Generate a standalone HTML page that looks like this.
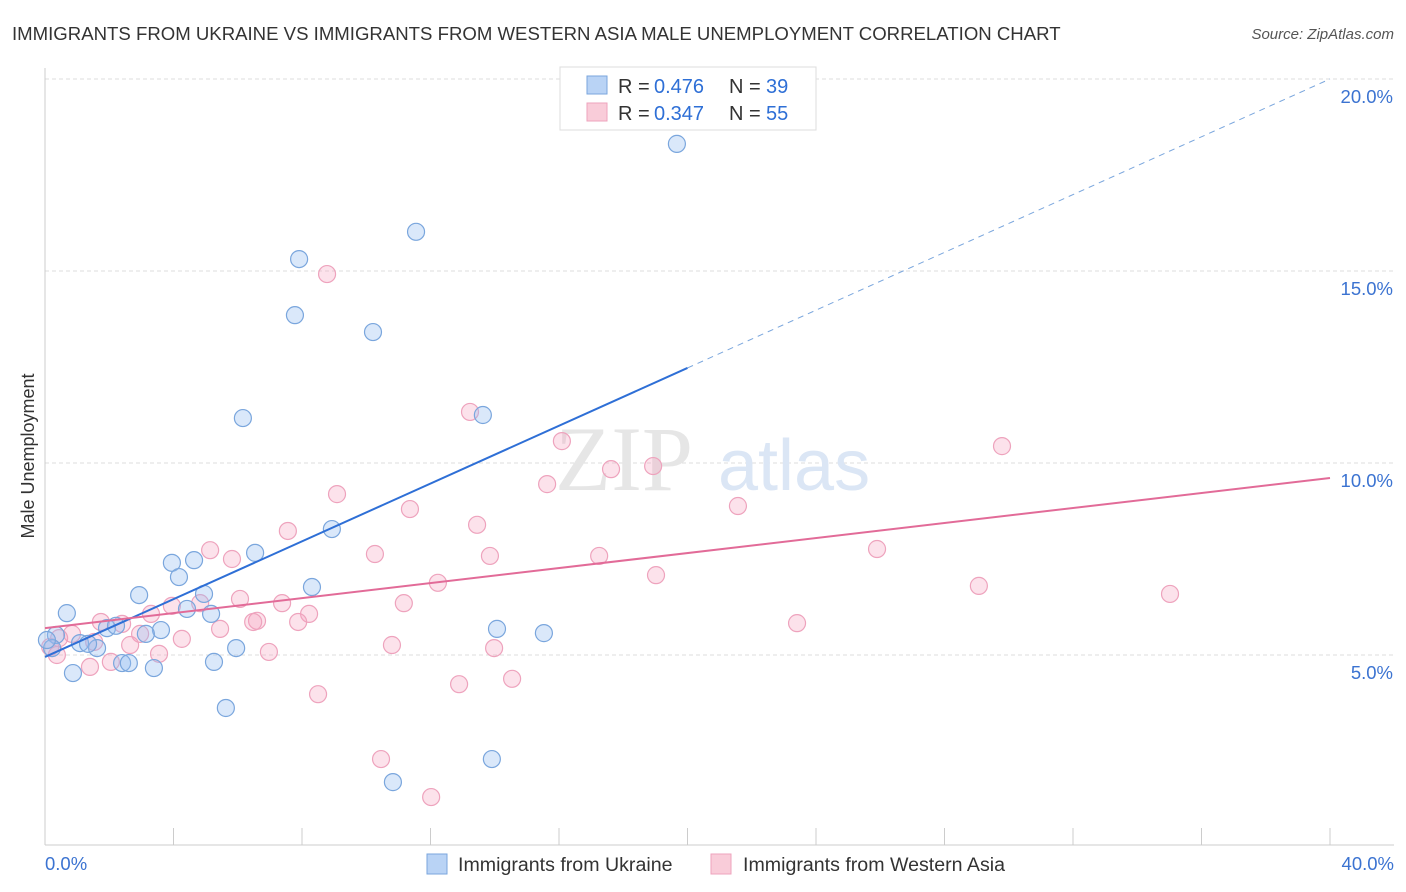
<!DOCTYPE html>
<html><head><meta charset="utf-8"><style>
body{margin:0;background:#fff;font-family:"Liberation Sans",sans-serif;}
#wrap{position:relative;width:1406px;height:892px;overflow:hidden}
</style></head><body>
<div id="wrap">
<svg id="chart" width="1406" height="892"></svg>
</div>
<script>
const blueX=[19.67,11.55,7.91,7.78,10.21,6.16,13.63,8.93,6.54,4.64,3.95,4.17,8.31,2.93,4.95,0.68,4.42,5.17,1.93,2.21,3.61,3.14,0.34,14.07,15.53,1.09,1.62,5.95,0.22,2.40,2.61,3.39,5.26,0.87,5.63,13.91,10.83,1.34,0.06];
const blueY=[18.31,16.02,15.31,13.85,13.41,11.17,11.25,8.28,7.66,7.47,7.40,7.03,6.77,6.56,6.59,6.09,6.20,6.07,5.70,5.76,5.65,5.55,5.52,5.68,5.57,5.31,5.18,5.18,5.18,4.79,4.79,4.66,4.82,4.53,3.62,2.29,1.69,5.29,5.39];
const pinkX=[8.78,13.23,16.09,29.79,18.93,17.62,15.63,9.09,21.57,11.36,13.45,7.56,5.14,25.90,10.27,13.85,17.25,5.82,19.02,12.23,29.07,35.02,6.07,11.17,7.38,4.83,3.95,8.22,3.30,6.60,6.48,7.88,23.41,1.74,2.40,5.45,2.96,4.26,0.84,0.44,1.53,2.65,10.80,13.98,6.97,3.55,0.37,2.05,1.40,8.50,14.54,12.89,10.46,12.02,0.16];
const pinkY=[14.92,11.33,10.57,10.44,9.92,9.84,9.45,9.19,8.88,8.80,8.39,8.23,7.73,7.76,7.63,7.58,7.58,7.50,7.08,6.88,6.80,6.59,6.46,6.35,6.35,6.35,6.28,6.07,6.07,5.89,5.86,5.86,5.83,5.86,5.81,5.68,5.55,5.42,5.55,5.44,5.34,5.26,5.26,5.18,5.08,5.03,5.00,4.82,4.69,3.98,4.38,4.24,2.29,1.30,5.21];
const yTicks=[5,10,15,20];
const yTickLabels=["5.0%","10.0%","15.0%","20.0%"];
const blueFit=[4.95,20.0];
const pinkFit=[5.70,9.61];

const NS="http://www.w3.org/2000/svg";
const svg=document.getElementById('chart');
const X=v=>45+v*32.125, Y=v=>847-v*38.4;
function el(t,a,p){const e=document.createElementNS(NS,t);for(const k in a)e.setAttribute(k,a[k]);(p||svg).appendChild(e);return e;}
function txt(s,a){const e=el('text',a);e.textContent=s;return e;}

const t=txt("IMMIGRANTS FROM UKRAINE VS IMMIGRANTS FROM WESTERN ASIA MALE UNEMPLOYMENT CORRELATION CHART",{x:12,y:40,'font-size':18.6,fill:'#333'});

const src=txt("Source: ZipAtlas.com",{x:1394,y:39,'font-size':15,fill:'#555','text-anchor':'end','font-style':'italic'});


yTicks.forEach((v,i)=>{
 const g=el('line',{x1:45,x2:1394,y1:Y(v),y2:Y(v),stroke:'#ddd','stroke-dasharray':'4,3'});
 
 const l=txt(yTickLabels[i],{x:1393,y:Y(v)+24,'font-size':18.5,fill:'#3b73d1','text-anchor':'end'});
 
});
el('line',{x1:45,x2:1394,y1:845,y2:845,stroke:'#ccc'});
el('line',{x1:45,x2:45,y1:68,y2:845,stroke:'#ccc'});
for(let i=0;i<=10;i++){const tk=el('line',{x1:X(i*4),x2:X(i*4),y1:828,y2:845,stroke:'#ccc'});}
const x0=txt("0.0%",{x:45,y:870,'font-size':18.5,fill:'#3b73d1'});
const x1=txt("40.0%",{x:1394,y:870,'font-size':18.5,fill:'#3b73d1','text-anchor':'end'});
const yt=txt("Male Unemployment",{x:34,y:456,'font-size':18,fill:'#333','text-anchor':'middle',transform:'rotate(-90 34 456)'});


const wm=txt("ZIP",{x:555,y:490,'font-size':92,fill:'#e6e6e6','font-family':'Liberation Serif'});

const wm2=txt("atlas",{x:718,y:490,'font-size':72,fill:'#dbe6f5'});


pinkX.forEach((v,i)=>{const c=el('circle',{cx:X(v),cy:Y(pinkY[i]),r:8.5,fill:'rgba(244,160,190,0.3)',stroke:'#eea3bd','stroke-width':1.2});
 });
blueX.forEach((v,i)=>{const c=el('circle',{cx:X(v),cy:Y(blueY[i]),r:8.5,fill:'rgba(150,190,240,0.35)',stroke:'#7aa6dd','stroke-width':1.2});
 });

const bmid=blueFit[0]+(blueFit[1]-blueFit[0])/2;
const bl=el('line',{x1:X(0),y1:Y(blueFit[0]),x2:X(20),y2:Y(bmid),stroke:'#2e6fd6','stroke-width':2});

const bd=el('line',{x1:X(20),y1:Y(bmid),x2:X(40),y2:Y(blueFit[1]),stroke:'#7aa6dd','stroke-width':1,'stroke-dasharray':'6,5'});

const pl=el('line',{x1:X(0),y1:Y(pinkFit[0]),x2:X(40),y2:Y(pinkFit[1]),stroke:'#e26b98','stroke-width':2});


const lg=el('g',{});
el('rect',{x:560,y:67,width:256,height:63,fill:'#fff',stroke:'#ddd'},lg);
el('rect',{x:587,y:76,width:20,height:18,fill:'#b9d3f5',stroke:'#7aa6dd'},lg);
el('rect',{x:587,y:103,width:20,height:18,fill:'#f9ccd9',stroke:'#eea3bd'},lg);
[[93,"0.476","39"],[120,"0.347","55"]].forEach(r=>{
 const a=el('text',{x:618,y:r[0],'font-size':20,fill:'#333'},lg);a.textContent="R =";
 const b=el('text',{x:654,y:r[0],'font-size':20,fill:'#2e6fd6'},lg);b.textContent=r[1];
 const c=el('text',{x:729,y:r[0],'font-size':20,fill:'#333'},lg);c.textContent="N =";
 const d=el('text',{x:766,y:r[0],'font-size':20,fill:'#2e6fd6'},lg);d.textContent=r[2];
});
const b1=el('rect',{x:427,y:854,width:20,height:20,fill:'#b9d3f5',stroke:'#7aa6dd'});
const l1=txt("Immigrants from Ukraine",{x:458,y:871,'font-size':19.6,fill:'#333'});
const b2=el('rect',{x:711,y:854,width:20,height:20,fill:'#f9ccd9',stroke:'#eea3bd'});
const l2=txt("Immigrants from Western Asia",{x:743,y:871,'font-size':19.6,fill:'#333'});
</script>
</body></html>
